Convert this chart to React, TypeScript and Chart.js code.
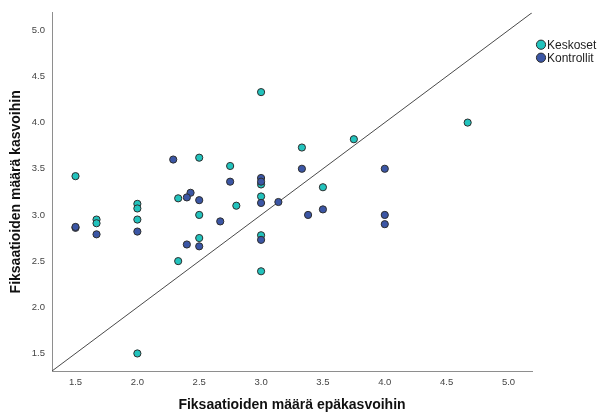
import React, { useEffect, useRef } from 'react';
import { Chart, registerables } from 'chart.js';

Chart.register(...registerables);

// ---- data ----
const tickValues = [1.5, 2.0, 2.5, 3.0, 3.5, 4.0, 4.5, 5.0];
const axisMin = 1.31;
const axisMax = 5.19;

const seriesNames = ['Keskoset', 'Kontrollit'];
const xTitle = 'Fiksaatioiden määrä epäkasvoihin';
const yTitle = 'Fiksaatioiden määrä kasvoihin';

const keskosetX = [3.0, 4.67, 3.75, 3.33, 2.5, 2.75, 1.5, 3.0, 3.5, 3.0, 2.33, 2.0, 2.8, 2.0, 2.5, 1.67, 2.0, 1.67, 3.0, 2.5, 2.33, 3.0, 2.0];
const keskosetY = [4.33, 4.0, 3.82, 3.73, 3.62, 3.53, 3.42, 3.33, 3.30, 3.20, 3.18, 3.12, 3.10, 3.07, 3.0, 2.95, 2.95, 2.91, 2.78, 2.75, 2.50, 2.39, 1.5];

const kontrollitX = [2.29, 3.33, 4.0, 3.0, 3.0, 2.75, 2.43, 2.4, 2.5, 3.0, 3.14, 3.5, 3.38, 4.0, 2.67, 4.0, 1.5, 1.5, 2.0, 1.67, 3.0, 2.4, 2.5];
const kontrollitY = [3.60, 3.50, 3.50, 3.40, 3.36, 3.36, 3.24, 3.19, 3.16, 3.13, 3.14, 3.06, 3.0, 3.0, 2.93, 2.90, 2.86, 2.87, 2.82, 2.79, 2.73, 2.68, 2.66];

const cyan = '#22c3bd';
const blue = '#3b56a5';
const pointBorder = '#2d2d2d';
const FONT = '"Liberation Sans", Arial, sans-serif';

const toPoints = (xs: number[], ys: number[]) => xs.map((x, i) => ({ x, y: ys[i] }));

const legendPlugin = {
  id: 'sideLegend',
  afterDraw(chart: any) {
    const ctx = chart.ctx;
    const area = chart.chartArea;
    const colors = [cyan, blue];
    ctx.save();
    ctx.font = `12px ${FONT}`;
    ctx.textBaseline = 'middle';
    ctx.textAlign = 'left';
    seriesNames.forEach((name, i) => {
      const cx = area.right + 9;
      const cy = area.top + 32 + i * 13;
      ctx.beginPath();
      ctx.arc(cx, cy, 4.6, 0, Math.PI * 2);
      ctx.fillStyle = colors[i];
      ctx.fill();
      ctx.lineWidth = 1;
      ctx.strokeStyle = pointBorder;
      ctx.stroke();
      ctx.fillStyle = '#1e1e1e';
      ctx.fillText(name, cx + 6, cy + 0.5);
    });
    ctx.restore();
  },
};

export default function App() {
  const ref = useRef<HTMLCanvasElement | null>(null);

  useEffect(() => {
    if (!ref.current) return;
    const tickFont = { family: FONT, size: 9.5 };
    const titleFont = { family: FONT, size: 14, weight: 'bold' as const, lineHeight: 1 };
    const chart = new Chart(ref.current, {
      type: 'scatter',
      data: {
        datasets: [
          {
            label: 'diagonal',
            data: [
              { x: axisMin, y: axisMin },
              { x: axisMax, y: axisMax },
            ],
            showLine: true,
            borderColor: '#4a4a4a',
            borderWidth: 1,
            pointRadius: 0,
            order: 3,
          } as any,
          {
            label: seriesNames[0],
            data: toPoints(keskosetX, keskosetY),
            backgroundColor: cyan,
            borderColor: pointBorder,
            borderWidth: 1,
            pointRadius: 3.6,
            order: 2,
          },
          {
            label: seriesNames[1],
            data: toPoints(kontrollitX, kontrollitY),
            backgroundColor: blue,
            borderColor: pointBorder,
            borderWidth: 1,
            pointRadius: 3.6,
            order: 1,
          },
        ],
      },
      options: {
        animation: false,
        responsive: false,
        events: [],
        layout: { padding: { top: 10, right: 69, left: 0, bottom: 0 } },
        plugins: { legend: { display: false }, tooltip: { enabled: false } },
        scales: {
          x: {
            type: 'linear',
            min: axisMin,
            max: axisMax,
            afterFit: (s: any) => {
              s.height = 41;
            },
            afterBuildTicks: (s: any) => {
              s.ticks = tickValues.map((v) => ({ value: v }));
            },
            grid: { display: false, drawTicks: false },
            border: { display: true, color: '#8e8e8e', width: 1 },
            ticks: {
              padding: 6,
              font: tickFont,
              color: '#444',
              autoSkip: false,
              maxRotation: 0,
              callback: (v: any) => Number(v).toFixed(1),
            },
            title: {
              display: true,
              text: xTitle,
              font: titleFont,
              color: '#111',
              padding: { top: 0, bottom: 0 },
            },
          },
          y: {
            type: 'linear',
            min: axisMin,
            max: axisMax,
            afterFit: (s: any) => {
              s.width = 52;
            },
            afterBuildTicks: (s: any) => {
              s.ticks = tickValues.map((v) => ({ value: v }));
            },
            grid: { display: false, drawTicks: false },
            border: { display: true, color: '#8e8e8e', width: 1 },
            ticks: {
              padding: 7,
              font: tickFont,
              color: '#444',
              autoSkip: false,
              callback: (v: any) => Number(v).toFixed(1),
            },
            title: {
              display: true,
              text: yTitle,
              font: titleFont,
              color: '#111',
              padding: { top: 9, bottom: 0 },
            },
          },
        },
      },
      plugins: [legendPlugin],
    });
    return () => chart.destroy();
  }, []);

  return (
    <div style={{ position: 'fixed', left: 0, top: 0, width: 601, height: 412, background: '#fff' }}>
      <canvas ref={ref} width={601} height={412} style={{ display: 'block', width: 601, height: 412 }} />
    </div>
  );
}
